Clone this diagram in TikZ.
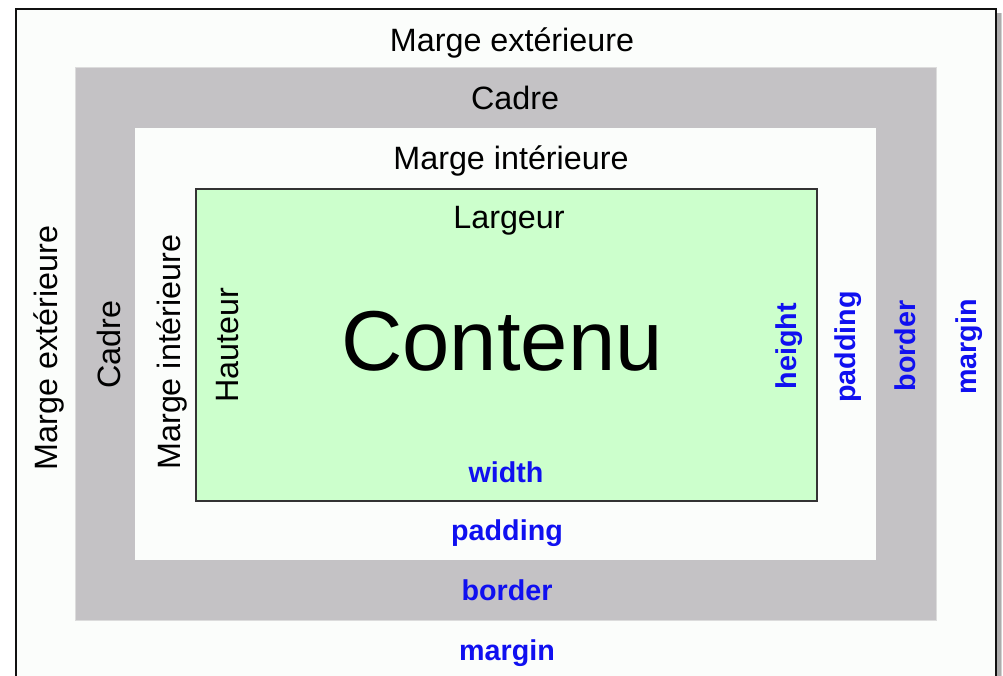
\documentclass[tikz,border=0pt]{standalone}
\usepackage{fontspec}
\setmainfont{Liberation Sans}
\definecolor{bgcol}{HTML}{FBFDFB}
\definecolor{graycol}{HTML}{C4C2C5}
\definecolor{grayedge}{HTML}{DCDCDC}
\definecolor{greencol}{HTML}{CCFFCC}
\definecolor{bluecol}{HTML}{1010F0}
\definecolor{framecol}{HTML}{111111}
\begin{document}
\begin{tikzpicture}[x=1pt,y=-1pt,
  lab/.style={inner sep=0pt,anchor=base,text=black,font=\fontsize{32.3}{38}\selectfont},
  css/.style={inner sep=0pt,anchor=base,text=bluecol,font=\fontsize{28.7}{34}\selectfont\bfseries},
  vert/.style={rotate=90}]
\useasboundingbox (0,0) rectangle (1003,676);
\fill[white] (0,0) rectangle (1003,676);
% shadow and frame
\fill[gray!35] (20,13) rectangle (1002,690);
\fill[gray!65] (20,13) rectangle (1000.5,690);
\draw[framecol,line width=2.4pt,fill=bgcol] (16,9) rectangle (996,690);
% boxes
\fill[graycol,draw=grayedge,line width=1pt] (75,68) rectangle (936,620);
\fill[bgcol] (135,128) rectangle (876,560);
\draw[fill=greencol,draw=black!80,line width=2pt] (196,189) rectangle (817,501);
% horizontal labels
\node[lab] (me) at (512,52) {Marge extérieure};
\node[lab] (ca) at (515,110) {Cadre};
\node[lab] (mi) at (511,170) {Marge intérieure};
\node[lab] (la) at (509,229) {Largeur};
\node[inner sep=0pt,anchor=base,font=\fontsize{85}{90}\selectfont] (co) at (502,370) {Contenu};
\node[css] (wi) at (506,482) {width};
\node[css] (pa) at (507,540) {padding};
\node[css] (bo) at (507,600) {border};
\node[css] (ma) at (507,660) {margin};
% left vertical labels
\node[lab,vert] (vme) at (57,348) {Marge extérieure};
\node[lab,vert] (vca) at (120,345) {Cadre};
\node[lab,vert] (vmi) at (180,352) {Marge intérieure};
\node[lab,vert] (vha) at (238,345) {Hauteur};
% right vertical labels
\node[css,vert] (vhe) at (796,346) {height};
\node[css,vert] (vpa) at (855,347) {padding};
\node[css,vert] (vbo) at (915,346) {border};
\node[css,vert] (vma) at (976,347) {margin};
\end{tikzpicture}
\end{document}
